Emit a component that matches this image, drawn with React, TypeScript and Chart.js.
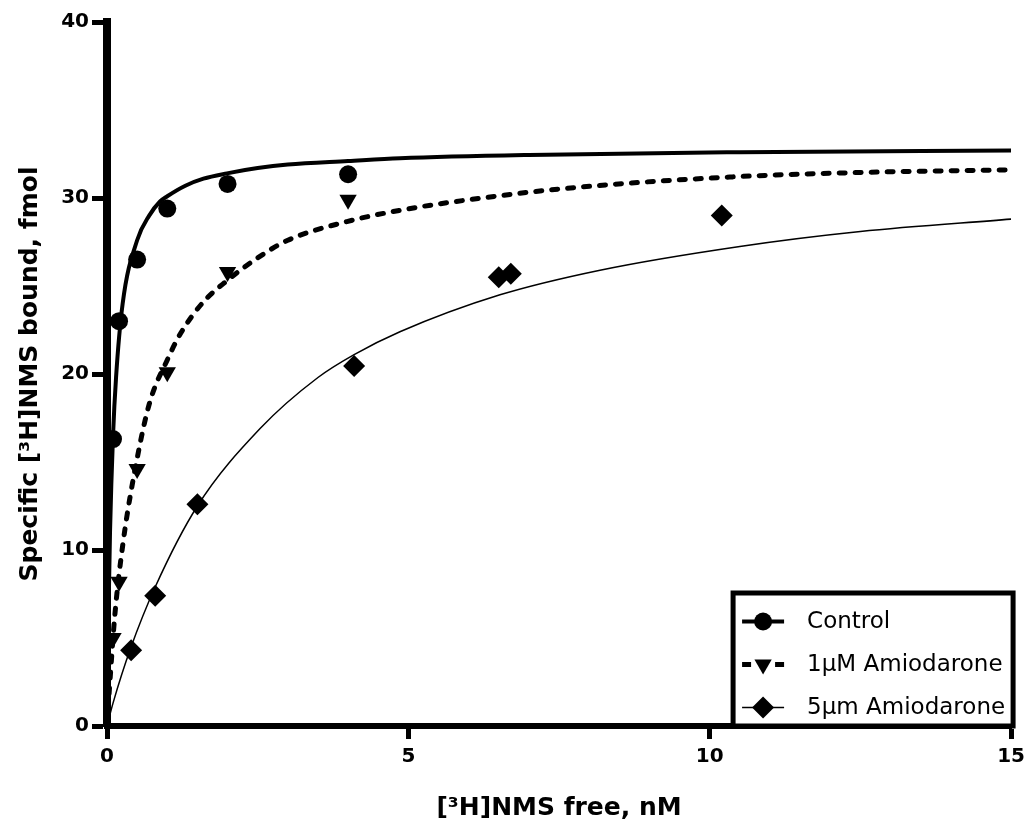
import React, { useEffect, useRef } from "react";
import { Chart, registerables } from "chart.js";

Chart.register(...registerables);

// ---- Data ----
const seriesNames = ["Control", "1µM Amiodarone", "5µm Amiodarone"];
const xTitle = "[³H]NMS free, nM";
const yTitle = "Specific [³H]NMS bound, fmol";
const xTickValues = [0, 5, 10, 15];
const yTickValues = [0, 10, 20, 30, 40];

// measured points
const controlX = [0.1, 0.2, 0.5, 1.0, 2.0, 4.0];
const controlY = [16.3, 23.0, 26.5, 29.4, 30.8, 31.35];
const amio1X = [0.1, 0.2, 0.5, 1.0, 2.0, 4.0];
const amio1Y = [5.0, 8.2, 14.6, 20.1, 25.8, 29.9];
const amio5X = [0.4, 0.8, 1.5, 4.1, 6.5, 6.7, 10.2];
const amio5Y = [4.3, 7.4, 12.6, 20.45, 25.5, 25.7, 29.0];

// fitted curves
const controlFitX = [0, 0.02, 0.05, 0.1, 0.15, 0.26, 0.5, 0.7, 0.88, 1.0, 1.3, 1.6, 1.99, 2.5, 3, 4, 4.86, 7, 10.5, 15];
const controlFitY = [0, 5.5, 11, 16.5, 19.8, 24.0, 27.6, 29.0, 29.8, 30.1, 30.7, 31.1, 31.4, 31.7, 31.9, 32.1, 32.26, 32.45, 32.6, 32.7];
const amio1FitX = [0, 0.05, 0.13, 0.27, 0.5, 0.71, 1.0, 1.22, 1.6, 1.99, 2.5, 3, 3.98, 4.86, 6, 7.62, 10.38, 12.5, 15];
const amio1FitY = [0, 2.6, 6.3, 10.5, 15.2, 18.4, 20.8, 22.3, 24.1, 25.3, 26.6, 27.6, 28.66, 29.3, 29.9, 30.55, 31.2, 31.45, 31.6];
const amio5FitX = [0, 0.1, 0.39, 0.8, 1.5, 2.54, 3.5, 4.1, 4.86, 6.52, 8.18, 10.5, 12.5, 15];
const amio5FitY = [0, 1.3, 4.4, 7.9, 12.5, 16.9, 19.8, 21.1, 22.4, 24.5, 25.9, 27.25, 28.1, 28.8];

const FONT = "'DejaVu Sans', Verdana, sans-serif";

const pts = (xs: number[], ys: number[]) => xs.map((x, i) => ({ x, y: ys[i] }));

function drawMarker(ctx: CanvasRenderingContext2D, kind: string, x: number, y: number) {
  ctx.beginPath();
  if (kind === "circle") {
    ctx.arc(x, y, 9, 0, Math.PI * 2);
  } else if (kind === "triangle") {
    const r = 10;
    ctx.moveTo(x, y + r);
    ctx.lineTo(x - r * 0.866, y - r * 0.5);
    ctx.lineTo(x + r * 0.866, y - r * 0.5);
    ctx.closePath();
  } else {
    const r = 11;
    ctx.moveTo(x, y - r);
    ctx.lineTo(x + r, y);
    ctx.lineTo(x, y + r);
    ctx.lineTo(x - r, y);
    ctx.closePath();
  }
  ctx.fillStyle = "#000";
  ctx.fill();
}

const legendPlugin = {
  id: "boxLegend",
  afterDraw(chart: any) {
    const { ctx, chartArea } = chart;
    const right = chartArea.right + 2;
    const bottom = chartArea.bottom;
    const left = right - 280;
    const top = bottom - 133;
    ctx.save();
    ctx.fillStyle = "#fff";
    ctx.fillRect(left, top, right - left, bottom - top);
    ctx.lineWidth = 5;
    ctx.strokeStyle = "#000";
    ctx.strokeRect(left, top, right - left, bottom - top);

    const kinds = ["circle", "triangle", "diamond"];
    const widths = [4, 5, 1.5];
    const dashes = [[], [9, 24, 9], []];
    for (let i = 0; i < 3; i++) {
      const cy = top + 28.5 + i * 43;
      ctx.beginPath();
      ctx.setLineDash(dashes[i]);
      ctx.lineWidth = widths[i];
      ctx.strokeStyle = "#000";
      ctx.moveTo(left + 9, cy);
      ctx.lineTo(left + 51, cy);
      ctx.stroke();
      ctx.setLineDash([]);
      drawMarker(ctx, kinds[i], left + 30, cy);
      ctx.fillStyle = "#000";
      ctx.font = `23px ${FONT}`;
      ctx.textBaseline = "middle";
      ctx.textAlign = "left";
      ctx.fillText(seriesNames[i], left + 74, cy + 1);
    }
    ctx.restore();
  },
};

export default function App() {
  const canvasRef = useRef<HTMLCanvasElement | null>(null);

  useEffect(() => {
    document.body.style.margin = "0";
    const canvas = canvasRef.current;
    if (!canvas) return;
    Chart.defaults.font.family = FONT;
    Chart.defaults.color = "#000";

    const tickFont = { family: FONT, size: 20, weight: "bold" as const };
    const titleFont = { family: FONT, size: 25, weight: "bold" as const };

    const chart = new Chart(canvas, {
      type: "scatter",
      data: {
        datasets: [
          {
            label: seriesNames[0],
            data: pts(controlX, controlY),
            pointStyle: "circle",
            pointRadius: 9,
            backgroundColor: "#000",
            borderColor: "#000",
            borderWidth: 0,
            showLine: false,
            order: 0,
          },
          {
            label: seriesNames[1],
            data: pts(amio1X, amio1Y),
            pointStyle: "triangle",
            pointRotation: 180,
            pointRadius: 10,
            backgroundColor: "#000",
            borderColor: "#000",
            borderWidth: 0,
            showLine: false,
            order: 0,
          },
          {
            label: seriesNames[2],
            data: pts(amio5X, amio5Y),
            pointStyle: "rectRot",
            pointRadius: 11,
            backgroundColor: "#000",
            borderColor: "#000",
            borderWidth: 0,
            showLine: false,
            order: 0,
          },
          {
            label: seriesNames[0] + " fit",
            data: pts(controlFitX, controlFitY),
            showLine: true,
            pointRadius: 0,
            borderColor: "#000",
            borderWidth: 4,
            cubicInterpolationMode: "monotone",
            fill: false,
            order: 1,
          },
          {
            label: seriesNames[1] + " fit",
            data: pts(amio1FitX, amio1FitY),
            showLine: true,
            pointRadius: 0,
            borderColor: "#000",
            borderWidth: 5,
            borderDash: [6, 10],
            borderCapStyle: "round",
            cubicInterpolationMode: "monotone",
            fill: false,
            order: 1,
          },
          {
            label: seriesNames[2] + " fit",
            data: pts(amio5FitX, amio5FitY),
            showLine: true,
            pointRadius: 0,
            borderColor: "#000",
            borderWidth: 1.5,
            cubicInterpolationMode: "monotone",
            fill: false,
            order: 1,
          },
        ],
      },
      options: {
        responsive: false,
        animation: false,
        devicePixelRatio: 1,
        layout: { padding: { left: 0, right: 19, top: 22, bottom: 0 } },
        plugins: {
          legend: { display: false },
          tooltip: { enabled: false },
        },
        scales: {
          x: {
            type: "linear",
            min: 0,
            max: 15,
            afterFit: (s: any) => {
              s.height = 101;
            },
            afterBuildTicks: (s: any) => {
              s.ticks = xTickValues.map((v) => ({ value: v }));
            },
            ticks: { font: tickFont, color: "#000", padding: 6 },
            grid: {
              drawOnChartArea: false,
              drawTicks: true,
              tickLength: 13,
              tickWidth: 5,
              tickColor: "#000",
              color: "#000",
            },
            border: { display: true, color: "#000", width: 6 },
            title: {
              display: true,
              text: xTitle,
              font: titleFont,
              color: "#000",
              padding: { top: 0, bottom: 4 },
            },
          },
          y: {
            type: "linear",
            min: 0,
            max: 40,
            afterFit: (s: any) => {
              s.width = 107;
            },
            afterBuildTicks: (s: any) => {
              s.ticks = yTickValues.map((v) => ({ value: v }));
            },
            ticks: { font: tickFont, color: "#000", padding: 3 },
            grid: {
              drawOnChartArea: false,
              drawTicks: true,
              tickLength: 15,
              tickWidth: 5,
              tickColor: "#000",
              color: "#000",
            },
            border: { display: true, color: "#000", width: 8 },
            title: {
              display: true,
              text: yTitle,
              font: titleFont,
              color: "#000",
              padding: { top: 15, bottom: 0 },
            },
          },
        },
      },
      plugins: [legendPlugin],
    } as any);

    return () => {
      chart.destroy();
    };
  }, []);

  return (
    <div style={{ width: 1031, height: 827, background: "#fff" }}>
      <canvas ref={canvasRef} width={1031} height={827} style={{ display: "block" }} />
    </div>
  );
}
